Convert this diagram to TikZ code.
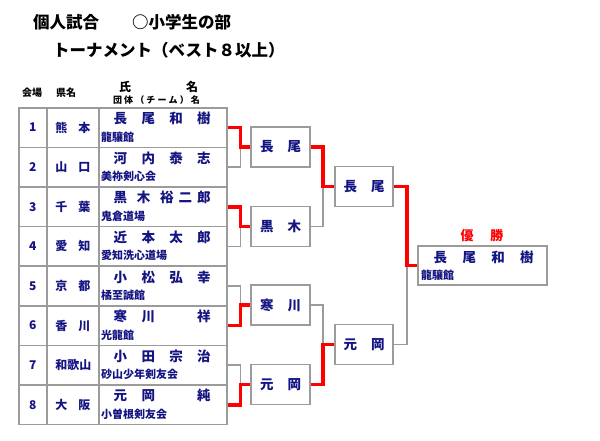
\documentclass[tikz,border=0pt]{standalone}
\usepackage{fontspec}
\setmainfont{Noto Sans CJK JP}
\definecolor{navy}{RGB}{20,20,130}
\definecolor{lgray}{RGB}{155,155,155}
\definecolor{win}{RGB}{255,0,0}
\newcommand\fs[1]{\fontsize{#1}{#1}\selectfont}
\newcommand\myrow[5]{%
  \pgfmathsetmacro\rt{107+39.6*(#1-1)}%
  \node[cell, minimum width=28pt] (n#1) at (18,\rt) {};
  \node[cell, minimum width=52pt] (p#1) at (46,\rt) {};
  \node[cell, minimum width=128pt] (c#1) at (98,\rt) {};
  \node[numtxt] (nt#1) at (n#1.center) {#1};
  \node[preftxt] (pt#1) at (p#1.center) {\makebox[35pt][s]{#2}};
  \node[nametxt] (nm#1) at (113.5,\rt+11.5) {\makebox[97pt][s]{#3}};
  \node[teamtxt] (tm#1) at (101,\rt+30) {#4};
}
\begin{document}
\begin{tikzpicture}[x=1pt,y=-1pt,
  cell/.style={draw=lgray, line width=1.6pt, minimum height=39.6pt, inner sep=0pt, anchor=north west},
  rbox/.style={draw=lgray, line width=1.6pt, minimum width=59pt, minimum height=40pt, inner sep=0pt, fill=white, font=\fs{13.5}\bfseries, text=navy},
  gl/.style={draw=lgray, line width=1.5pt},
  rl/.style={draw=win, line width=3.5pt},
  numtxt/.style={font=\fs{12}\bfseries, text=navy, inner sep=0pt},
  preftxt/.style={font=\fs{12}\bfseries, text=navy, inner sep=0pt},
  nametxt/.style={font=\fs{13.5}\bfseries, text=navy, inner sep=0pt, anchor=west},
  teamtxt/.style={font=\fs{11}\bfseries, text=navy, inner sep=0pt, anchor=west},
  hdr/.style={inner sep=0pt, text=black}]
\useasboundingbox (0,0) rectangle (600,440);
% titles
\node[hdr, anchor=west, font=\fs{16.5}\bfseries] (t1) at (33,22) {個人試合\hspace{33pt}○小学生の部};
\node[hdr, anchor=west, font=\fs{16.5}\bfseries] (t2) at (53,50) {トーナメント（ベスト８以上）};
% header
\node[hdr, font=\fs{10}\bfseries] (h1) at (32,93) {会場};
\node[hdr, font=\fs{10}\bfseries] (h2) at (66,93) {県名};
\node[hdr, font=\fs{12}\bfseries] (h3) at (125,87) {氏};
\node[hdr, font=\fs{12}\bfseries] (h4) at (192,87) {名};
\node[hdr, font=\fs{9}\bfseries] (h5) at (156.5,100) {\makebox[87pt][s]{団\hfill 体\hfill （\hfill チ\hfill ー\hfill ム\hfill ）\hfill 名}};
% rows
\myrow{1}{熊\hfill 本}{長\hfill 尾\hfill 和\hfill 樹}{龍驤館}{}
\myrow{2}{山\hfill 口}{河\hfill 内\hfill 泰\hfill 志}{美祢剣心会}{}
\myrow{3}{千\hfill 葉}{黒\hfill 木\hfill 裕\hspace{5pt}二\hspace{5pt}郎}{鬼倉道場}{}
\myrow{4}{愛\hfill 知}{近\hfill 本\hfill 太\hfill 郎}{愛知洗心道場}{}
\myrow{5}{京\hfill 都}{小\hfill 松\hfill 弘\hfill 幸}{橘至誠館}{}
\myrow{6}{香\hfill 川}{寒\hfill 川\hfill \phantom{口}\hfill 祥}{光龍館}{}
\myrow{7}{和歌山}{小\hfill 田\hfill 宗\hfill 治}{砂山少年剣友会}{}
\myrow{8}{大\hfill 阪}{元\hfill 岡\hfill \phantom{口}\hfill 純}{小曽根剣友会}{}
% round 2 boxes
\node[rbox] (A) at (280.5,147) {\makebox[41pt][s]{長\hfill 尾}};
\node[rbox] (B) at (280.5,226.5) {\makebox[41pt][s]{黒\hfill 木}};
\node[rbox] (C) at (280.5,305) {\makebox[41pt][s]{寒\hfill 川}};
\node[rbox] (D) at (280.5,384.5) {\makebox[41pt][s]{元\hfill 岡}};
% semifinal boxes
\node[rbox, minimum width=58pt] (S1) at (364,186.5) {\makebox[41pt][s]{長\hfill 尾}};
\node[rbox, minimum width=58pt] (S2) at (364,344.5) {\makebox[41pt][s]{元\hfill 岡}};
% winner
\node[draw=lgray, line width=1.6pt, minimum width=129pt, minimum height=39pt, inner sep=0pt] (W) at (482.5,265.5) {};
\node[inner sep=0pt, font=\fs{13}\bfseries, text=win] (WL) at (482,236) {\makebox[43pt][s]{優\hfill 勝}};
\node[nametxt] (WN) at (433.5,257) {\makebox[100pt][s]{長\hfill 尾\hfill 和\hfill 樹}};
\node[teamtxt] (WT) at (421,275) {龍驤館};
% round 1 connectors
\draw[gl] (c2.east) -- ++(13,0) |- (A.west);
\draw[rl] (c1.east) -- ++(13,0) |- (A.west);
\draw[gl] (c4.east) -- ++(13,0) |- (B.west);
\draw[rl] (c3.east) -- ++(13,0) |- (B.west);
\draw[gl] (c5.east) -- ++(13,0) |- (C.west);
\draw[rl] (c6.east) -- ++(13,0) |- (C.west);
\draw[gl] (c7.east) -- ++(13,0) |- (D.west);
\draw[rl] (c8.east) -- ++(13,0) |- (D.west);
% round 2 connectors
\draw[gl] (B.east) -- ++(12,0) |- (S1.west);
\draw[rl] (A.east) -- ++(12,0) |- (S1.west);
\draw[gl] (C.east) -- ++(12,0) |- (S2.west);
\draw[rl] (D.east) -- ++(12,0) |- (S2.west);
% final connectors
\draw[gl] (S2.east) -- ++(13,0) |- (W.west);
\draw[rl] (S1.east) -- ++(13,0) |- (W.west);
\end{tikzpicture}
\end{document}
